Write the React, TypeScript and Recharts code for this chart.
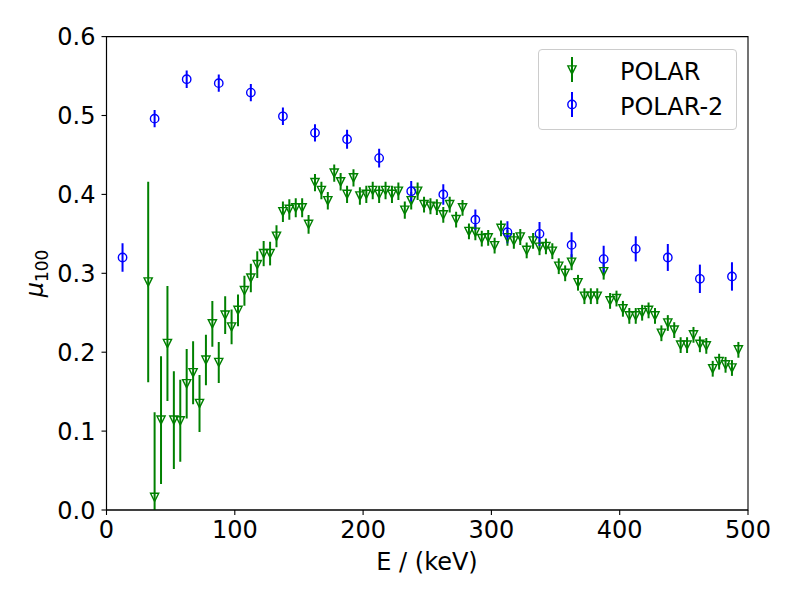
import React from 'react';
import { ScatterChart, Scatter, XAxis, YAxis, ErrorBar, ReferenceArea, Legend, Label } from 'recharts';

// POLAR (green, triangle-down)
const polarEnergy = [
  32.5, 37.5, 42.5, 47.5, 52.5, 57.5, 62.5, 67.5, 72.5, 77.5,
  82.5, 87.5, 92.5, 97.5, 102.5, 107.5, 112.5, 117.5, 122.5, 127.5,
  132.5, 137.5, 142.5, 147.5, 152.5, 157.5, 162.5, 167.5, 172.5, 177.5,
  182.5, 187.5, 192.5, 197.5, 202.5, 207.5, 212.5, 217.5, 222.5, 227.5,
  232.5, 237.5, 242.5, 247.5, 252.5, 257.5, 262.5, 267.5, 272.5, 277.5,
  282.5, 287.5, 292.5, 297.5, 302.5, 307.5, 312.5, 317.5, 322.5, 327.5,
  332.5, 337.5, 342.5, 347.5, 352.5, 357.5, 362.5, 367.5, 372.5, 377.5,
  382.5, 387.5, 392.5, 397.5, 402.5, 407.5, 412.5, 417.5, 422.5, 427.5,
  432.5, 437.5, 442.5, 447.5, 452.5, 457.5, 462.5, 467.5, 472.5, 477.5,
  482.5, 487.5, 492.5,
];
const polarMu = [
  0.289, 0.016, 0.114, 0.211, 0.114, 0.113, 0.160, 0.174, 0.135, 0.190,
  0.236, 0.187, 0.247, 0.232, 0.253, 0.278, 0.294, 0.311, 0.325, 0.325,
  0.347, 0.378, 0.381, 0.383, 0.383, 0.362, 0.415, 0.405, 0.392, 0.427,
  0.416, 0.400, 0.421, 0.398, 0.400, 0.405, 0.400, 0.405, 0.400, 0.404,
  0.380, 0.392, 0.404, 0.387, 0.385, 0.384, 0.374, 0.387, 0.368, 0.383,
  0.353, 0.352, 0.344, 0.345, 0.335, 0.357, 0.345, 0.341, 0.346, 0.329,
  0.341, 0.333, 0.334, 0.328, 0.309, 0.300, 0.314, 0.288, 0.271, 0.271,
  0.271, 0.302, 0.265, 0.268, 0.255, 0.246, 0.246, 0.250, 0.253, 0.246,
  0.224, 0.237, 0.228, 0.209, 0.209, 0.222, 0.210, 0.208, 0.179, 0.188,
  0.184, 0.180, 0.203,
];
const polarErr = [
  0.127, 0.108, 0.081, 0.073, 0.062, 0.052, 0.044, 0.040, 0.036, 0.032,
  0.029, 0.026, 0.024, 0.022, 0.020, 0.019, 0.018, 0.017, 0.016, 0.015,
  0.014, 0.013, 0.013, 0.012, 0.012, 0.012, 0.011, 0.011, 0.011, 0.011,
  0.011, 0.011, 0.011, 0.011, 0.011, 0.011, 0.011, 0.011, 0.011, 0.011,
  0.011, 0.011, 0.011, 0.010, 0.010, 0.010, 0.010, 0.010, 0.010, 0.010,
  0.010, 0.010, 0.010, 0.010, 0.010, 0.010, 0.010, 0.010, 0.010, 0.010,
  0.010, 0.010, 0.010, 0.010, 0.010, 0.010, 0.010, 0.010, 0.010, 0.010,
  0.010, 0.010, 0.010, 0.010, 0.010, 0.010, 0.010, 0.010, 0.010, 0.010,
  0.010, 0.010, 0.010, 0.010, 0.010, 0.010, 0.010, 0.010, 0.010, 0.010,
  0.010, 0.010, 0.010,
];

// POLAR-2 (blue, open circles)
const polar2Energy = [
  12.5, 37.5, 62.5, 87.5, 112.5, 137.5, 162.5, 187.5, 212.5, 237.5,
  262.5, 287.5, 312.5, 337.5, 362.5, 387.5, 412.5, 437.5, 462.5, 487.5,
];
const polar2Mu = [
  0.320, 0.496, 0.546, 0.541, 0.529, 0.499, 0.478, 0.470, 0.446, 0.404,
  0.400, 0.368, 0.352, 0.350, 0.336, 0.318, 0.331, 0.320, 0.293, 0.296,
];
const polar2Err = [
  0.018, 0.011, 0.011, 0.011, 0.011, 0.011, 0.011, 0.012, 0.012, 0.013,
  0.013, 0.013, 0.014, 0.015, 0.016, 0.017, 0.016, 0.017, 0.018, 0.018,
];

const xTicks = [0, 100, 200, 300, 400, 500];
const yTicks = [0, 0.1, 0.2, 0.3, 0.4, 0.5, 0.6];
const seriesNames = ['POLAR', 'POLAR-2'];

const polarData = polarEnergy.map((E, i) => ({ E, mu: polarMu[i], err: polarErr[i] }));
const polar2Data = polar2Energy.map((E, i) => ({ E, mu: polar2Mu[i], err: polar2Err[i] }));

const GREEN = '#008000';
const BLUE = '#0000ff';
const FONT = '"DejaVu Sans", sans-serif';
const FS = 24;

// plot area geometry (styling only)
const PLOT_LEFT = 106.5;
const PLOT_TOP = 36.6;
const PLOT_RIGHT = 748;
const PLOT_BOTTOM = 510;

const TriangleDown = (props: any) => {
  const { cx, cy } = props;
  if (cx == null || cy == null) return null;
  const s = 4.1;
  return (
    <path
      d={`M${cx - s},${cy - s}L${cx + s},${cy - s}L${cx},${cy + s}Z`}
      fill="none"
      stroke={GREEN}
      strokeWidth={1.4}
    />
  );
};

const OpenCircle = (props: any) => {
  const { cx, cy } = props;
  if (cx == null || cy == null) return null;
  return <circle cx={cx} cy={cy} r={4.2} fill="none" stroke={BLUE} strokeWidth={1.4} />;
};

const LegendBox = () => (
  <div
    style={{
      width: 199,
      height: 81,
      boxSizing: 'border-box',
      border: '1px solid #cccccc',
      borderRadius: 4,
      background: 'rgba(255,255,255,0.8)',
    }}
  >
    <svg width={197} height={79} style={{ display: 'block' }}>
      <line x1={33} x2={33} y1={7} y2={32} stroke={GREEN} strokeWidth={2} />
      <TriangleDown cx={33} cy={20} />
      <text x={81} y={29.5} fontFamily={FONT} fontSize={FS} fill="#000">{seriesNames[0]}</text>
      <line x1={33} x2={33} y1={42} y2={67} stroke={BLUE} strokeWidth={2} />
      <OpenCircle cx={33} cy={54.5} />
      <text x={81} y={64.5} fontFamily={FONT} fontSize={FS} fill="#000">{seriesNames[1]}</text>
    </svg>
  </div>
);

export default function App() {
  return (
    <div style={{ position: 'absolute', left: 0, top: 0, width: 800, height: 600, background: '#fff' }}>
      <style>{`.recharts-errorBars, .recharts-errorBar { clip-path: url(#plotAreaClip); }`}</style>
      <svg width={0} height={0} style={{ position: 'absolute' }}>
        <defs>
          <clipPath id="plotAreaClip" clipPathUnits="userSpaceOnUse">
            <rect
              x={PLOT_LEFT}
              y={PLOT_TOP}
              width={PLOT_RIGHT - PLOT_LEFT}
              height={PLOT_BOTTOM - PLOT_TOP}
            />
          </clipPath>
        </defs>
      </svg>
      <ScatterChart width={800} height={600} margin={{ top: PLOT_TOP, right: 800 - PLOT_RIGHT, bottom: 0, left: 0 }}>
        <XAxis
          type="number"
          dataKey="E"
          domain={[0, 500]}
          ticks={xTicks}
          allowDataOverflow
          height={600 - PLOT_BOTTOM}
          tickSize={5}
          tickMargin={6}
          stroke="#000"
          axisLine={{ stroke: '#000', strokeWidth: 1.1 }}
          tickLine={{ stroke: '#000', strokeWidth: 1.1 }}
          tick={{ fill: '#000', fontSize: FS, fontFamily: FONT }}
        >
          <Label
            content={() => (
              <text x={427} y={569.5} textAnchor="middle" fontFamily={FONT} fontSize={FS} fill="#000">
                E / (keV)
              </text>
            )}
          />
        </XAxis>
        <YAxis
          type="number"
          dataKey="mu"
          domain={[0, 0.6]}
          ticks={yTicks}
          allowDataOverflow
          width={PLOT_LEFT}
          tickSize={5}
          tickMargin={6}
          tickFormatter={(v: number) => v.toFixed(1)}
          stroke="#000"
          axisLine={{ stroke: '#000', strokeWidth: 1.1 }}
          tickLine={{ stroke: '#000', strokeWidth: 1.1 }}
          tick={{ fill: '#000', fontSize: FS, fontFamily: FONT }}
        >
          <Label
            content={() => (
              <text
                transform="translate(43, 273.5) rotate(-90)"
                textAnchor="middle"
                fontFamily={FONT}
                fontSize={FS}
                fill="#000"
              >
                <tspan fontStyle="italic">μ</tspan>
                <tspan fontSize={17} dy={5}>100</tspan>
              </text>
            )}
          />
        </YAxis>
        <ReferenceArea
          x1={0}
          x2={500}
          y1={0}
          y2={0.6}
          fill="none"
          fillOpacity={0}
          stroke="#000"
          strokeWidth={1.1}
          ifOverflow="visible"
        />
        <Legend
          layout="horizontal"
          verticalAlign="middle"
          align="center"
          wrapperStyle={{ left: 538, top: 49, width: 199, height: 81 }}
          content={() => <LegendBox />}
        />
        <Scatter
          name={seriesNames[0]}
          data={polarData}
          shape={<TriangleDown />}
          isAnimationActive={false}
        >
          <ErrorBar dataKey="err" direction="y" width={0} stroke={GREEN} strokeWidth={2} isAnimationActive={false} />
        </Scatter>
        <Scatter
          name={seriesNames[1]}
          data={polar2Data}
          shape={<OpenCircle />}
          isAnimationActive={false}
        >
          <ErrorBar dataKey="err" direction="y" width={0} stroke={BLUE} strokeWidth={2} isAnimationActive={false} />
        </Scatter>
      </ScatterChart>
    </div>
  );
}
